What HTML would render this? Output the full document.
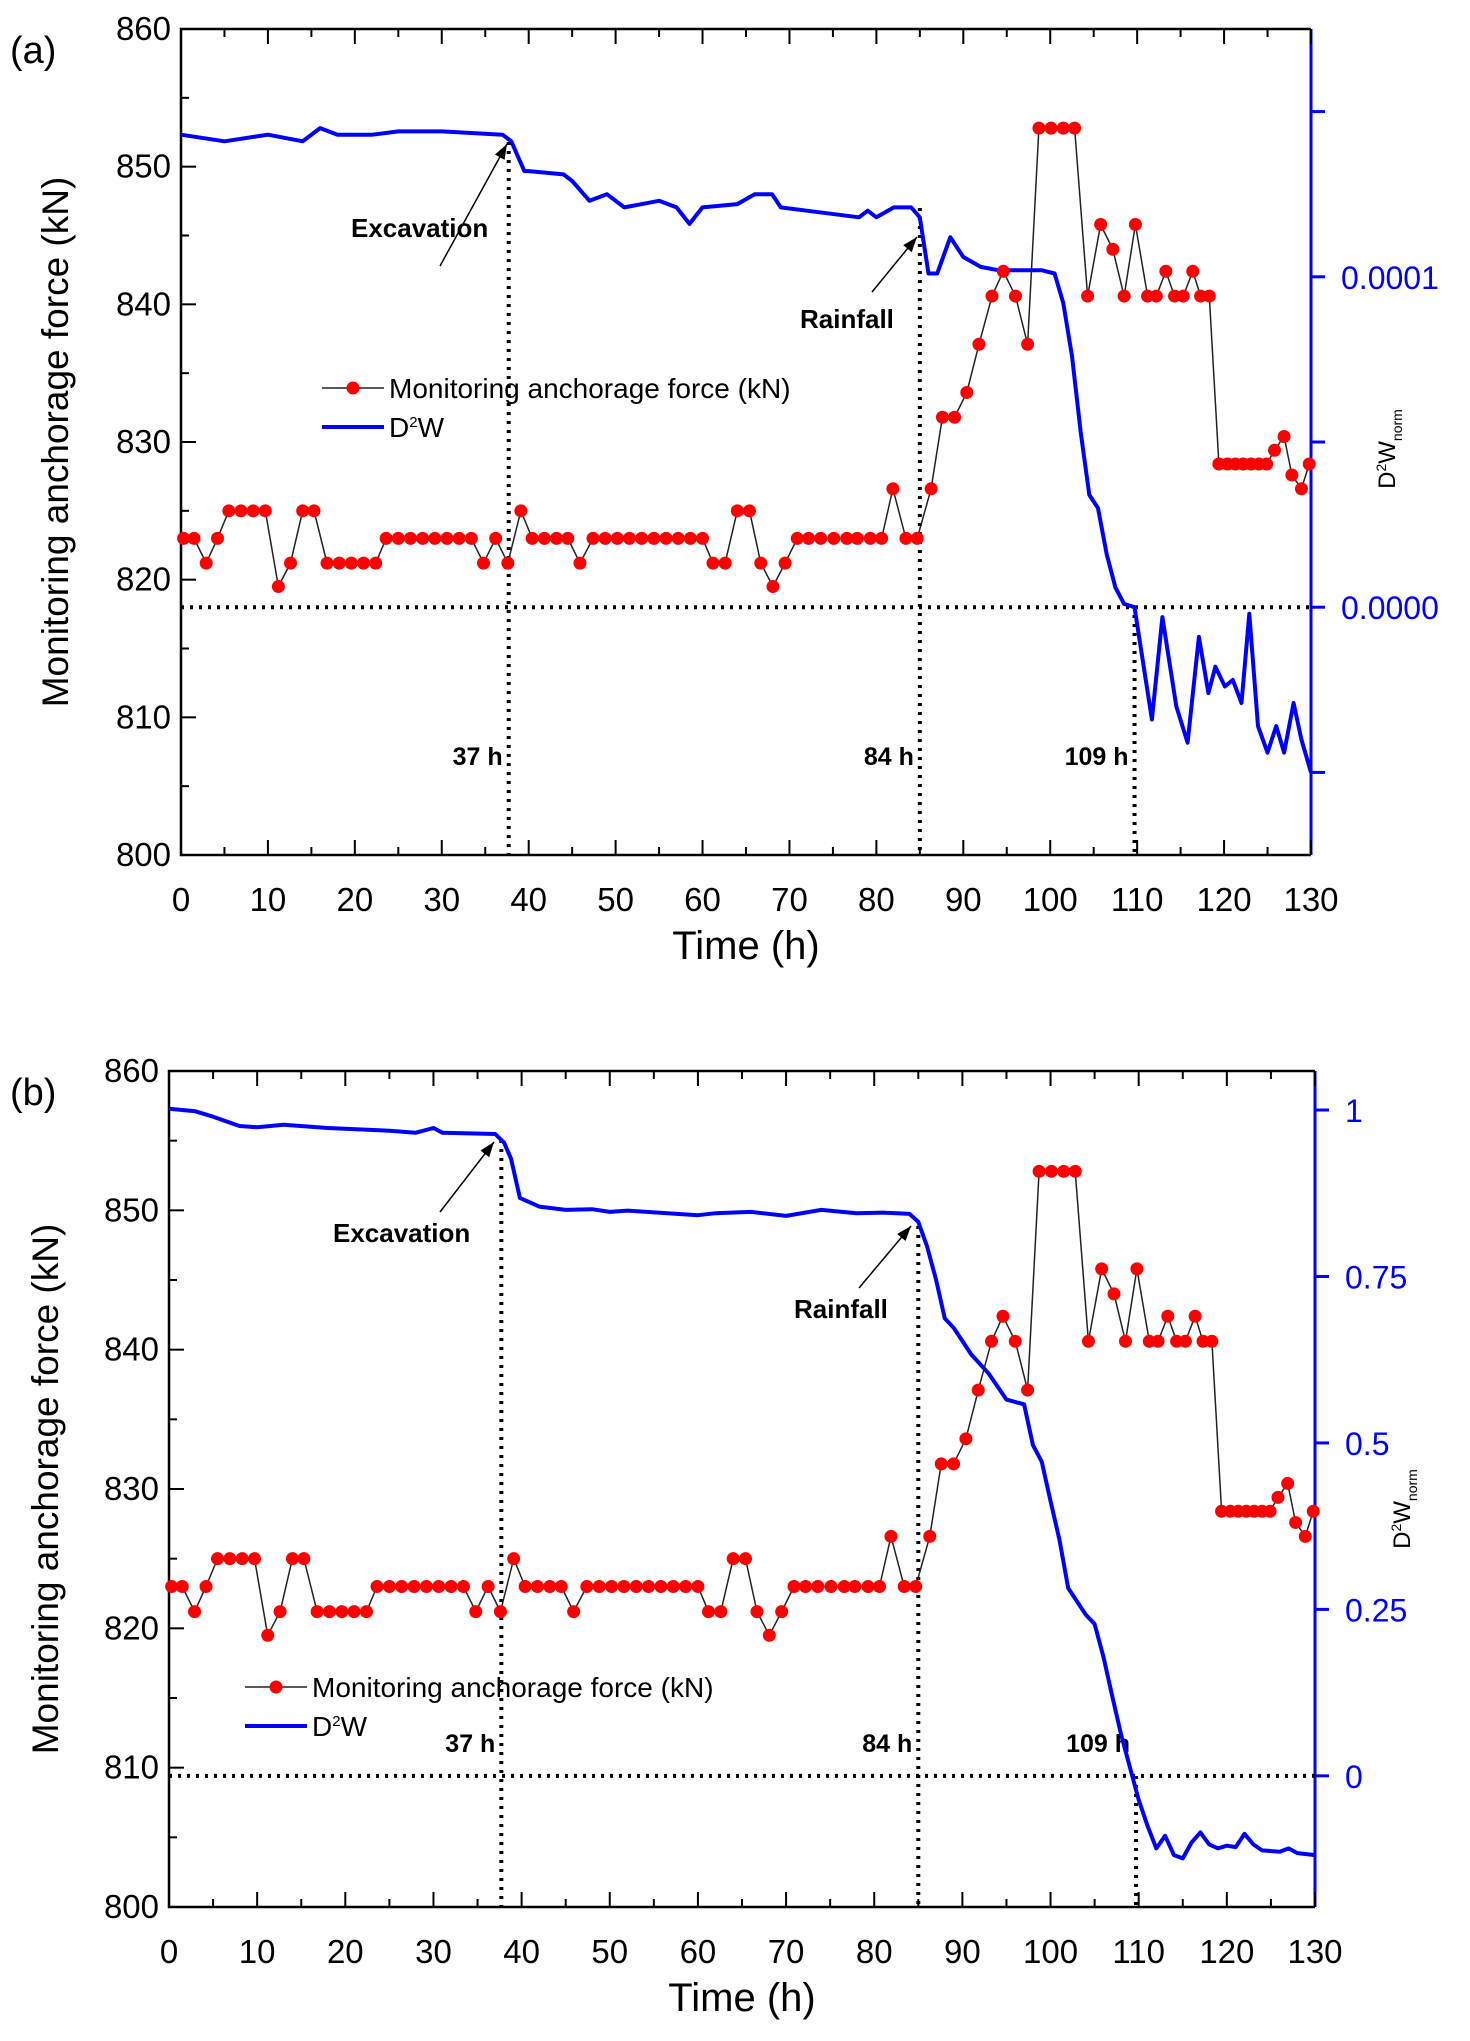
<!DOCTYPE html>
<html><head><meta charset="utf-8"><style>
html,body{margin:0;padding:0;background:#fff;}
svg{display:block;font-family:"Liberation Sans",sans-serif;}
</style></head><body>
<svg id="fig" width="1470" height="2041" viewBox="0 0 1470 2041" xmlns="http://www.w3.org/2000/svg"></svg>
<script>
// ===== Data =====
const forceTimes = [0.3,1.5,2.9,4.2,5.5,6.9,8.3,9.7,11.2,12.6,14,15.3,16.8,18.2,19.6,21,22.4,23.6,25,26.4,27.8,29.2,30.6,32,33.4,34.8,36.2,37.6,39.1,40.4,41.8,43.2,44.5,45.9,47.4,48.8,50.2,51.6,53,54.4,55.8,57.2,58.6,60,61.2,62.6,64,65.4,66.7,68.1,69.5,70.9,72.2,73.6,75.1,76.6,77.8,79.3,80.6,81.9,83.4,84.7,86.3,87.6,89,90.4,91.8,93.3,94.6,96,97.4,98.7,100.1,101.5,102.8,104.3,105.8,107.2,108.5,109.8,111.2,112.2,113.3,114.3,115.3,116.4,117.3,118.3,119.4,120.4,121.3,122.2,123.1,124,124.9,125.8,126.9,127.8,128.9,129.8];
const forceValues = [823,823,821.2,823,825,825,825,825,819.5,821.2,825,825,821.2,821.2,821.2,821.2,821.2,823,823,823,823,823,823,823,823,821.2,823,821.2,825,823,823,823,823,821.2,823,823,823,823,823,823,823,823,823,823,821.2,821.2,825,825,821.2,819.5,821.2,823,823,823,823,823,823,823,823,826.6,823,823,826.6,831.8,831.8,833.6,837.1,840.6,842.4,840.6,837.1,852.8,852.8,852.8,852.8,840.6,845.8,844,840.6,845.8,840.6,840.6,842.4,840.6,840.6,842.4,840.6,840.6,828.4,828.4,828.4,828.4,828.4,828.4,828.4,829.4,830.4,827.6,826.6,828.4];
// panel (a) D2W in units of 1e-5
const d2wATimes = [0,5,10,14,16,18,22,25,30,37,38,39.5,40,44,45,47,49,51,55,57,58.5,60,64,66,68,69,72,78,79,80,82,84,85,86,87,88.5,90,92,94,99,100.5,101.5,102.5,103.5,104.5,105.5,106.5,107.5,108.5,109.7,111.7,112.9,114.5,115.8,117.1,118.2,119,120.1,121,122,122.9,123.9,125,126,126.9,128,128.9,130];
const d2wAValues = [14.3,14.1,14.3,14.1,14.5,14.3,14.3,14.4,14.4,14.3,14.1,13.2,13.2,13.1,12.9,12.3,12.5,12.1,12.3,12.1,11.6,12.1,12.2,12.5,12.5,12.1,12.0,11.8,12.0,11.8,12.1,12.1,11.8,10.1,10.1,11.2,10.6,10.3,10.2,10.2,10.1,9.2,7.6,5.3,3.4,3.0,1.6,0.6,0.1,0,-3.4,-0.3,-3.0,-4.1,-0.9,-2.6,-1.8,-2.4,-2.2,-2.9,-0.2,-3.6,-4.4,-3.6,-4.4,-2.9,-4.0,-5.0];
// panel (b) normalized D2W
const d2wBTimes = [0,3,5,8,10,13,18,25,28,30,31,37,38,38.8,39.8,42,45,48,50,52,60,62,66,70,74,78,81,84,85,86,87,88,89,91,93,95,97,98,99,100,101,102,104,105,106,107,108,109,110,111,112,113,114,115,116,117,118,119,120,121,122,123,124,126,127,128,130];
const d2wBValues = [1.002,0.998,0.99,0.976,0.974,0.978,0.973,0.969,0.966,0.973,0.966,0.964,0.951,0.927,0.868,0.855,0.85,0.851,0.847,0.849,0.842,0.845,0.847,0.841,0.85,0.845,0.846,0.844,0.832,0.795,0.746,0.687,0.673,0.633,0.604,0.565,0.558,0.497,0.472,0.413,0.355,0.282,0.242,0.228,0.179,0.12,0.062,0.013,-0.036,-0.075,-0.109,-0.09,-0.119,-0.124,-0.1,-0.085,-0.103,-0.109,-0.105,-0.107,-0.087,-0.103,-0.112,-0.114,-0.109,-0.116,-0.119];
const xTickLabels = [0,10,20,30,40,50,60,70,80,90,100,110,120,130];
const yTickLabels = [800,810,820,830,840,850,860];
const rightTicksA = [-5,0,5,10,15];
const rightLabelsA = {"0":"0.0000","10":"0.0001"};
const rightTicksB = [0,0.25,0.5,0.75,1];
const rightLabelsB = ["0","0.25","0.5","0.75","1"];
const eventTimes = [37.7, 85, 109.7];
const eventLabels = ["37 h","84 h","109 h"];

const NS = "http://www.w3.org/2000/svg";
const svg = document.getElementById('fig');
function mk(tag, attrs, parent, text){
  const e = document.createElementNS(NS, tag);
  for (const k in attrs) e.setAttribute(k, attrs[k]);
  if (text !== undefined) e.textContent = text;
  (parent||svg).appendChild(e);
  return e;
}

function panel(cfg){
  const g = mk('g', {});
  
  
  const X = t => cfg.x0 + (t/130)*(cfg.x1-cfg.x0);
  const Y = v => cfg.yb + (v-800)/60*(cfg.yt-cfg.yb);
  const R = v => cfg.rb + (v-cfg.rmin)/(cfg.rmax-cfg.rmin)*(cfg.yt-cfg.rb);

  const fr = mk('path', {d:`M${cfg.x1},${cfg.yt} L${cfg.x0},${cfg.yt} L${cfg.x0},${cfg.yb} L${cfg.x1},${cfg.yb}`, fill:'none', stroke:'#000', 'stroke-width':2.5}, g);
  
  
  const ra = mk('line', {x1:cfg.x1, y1:cfg.yt, x2:cfg.x1, y2:cfg.yb, stroke:'#0000ff', 'stroke-width':3}, g);
  
  

  for (let t=0;t<=130;t+=5){
    const major = t%10===0, L = major?15:8;
    mk('line',{x1:X(t),y1:cfg.yb,x2:X(t),y2:cfg.yb-L,stroke:'#000','stroke-width':2},g);
    mk('line',{x1:X(t),y1:cfg.yt,x2:X(t),y2:cfg.yt+L,stroke:'#000','stroke-width':2},g);
  }
  xTickLabels.forEach(t=>{
    const e = mk('text',{x:X(t),y:cfg.yb+56,'text-anchor':'middle','font-size':33},g,String(t));
    
    
  });
  for (let v=800; v<=860; v+=5){
    const L = v%10===0?15:8;
    mk('line',{x1:cfg.x0,y1:Y(v),x2:cfg.x0+L,y2:Y(v),stroke:'#000','stroke-width':2},g);
  }
  yTickLabels.forEach(v=>{
    const e = mk('text',{x:cfg.x0-10,y:Y(v)+11,'text-anchor':'end','font-size':33},g,String(v));
    
    
  });
  cfg.rticks.forEach((v,i)=>{
    mk('line',{x1:cfg.x1,y1:R(v),x2:cfg.x1+14,y2:R(v),stroke:'#0000ff','stroke-width':3},g);
    const lab = cfg.rlabel(v,i);
    if (lab){
      const e = mk('text',{x:cfg.x1+cfg.rlx,y:R(v)+12,'font-size':32,fill:'#0000ff'},g,lab);
      
      
    }
  });
  const xt = mk('text',{x:(cfg.x0+cfg.x1)/2,y:cfg.yb+104,'text-anchor':'middle','font-size':40},g,'Time (h)');
  
  
  const yt = mk('text',{x:0,y:0,'text-anchor':'middle','font-size':37,transform:`translate(${cfg.ytx},${(cfg.yt+cfg.yb)/2}) rotate(-90)`},g,'Monitoring anchorage force (kN)');
  
  
  const rt = mk('text',{x:0,y:0,'text-anchor':'middle','font-size':24,transform:`translate(${cfg.rtx},${cfg.rty}) rotate(-90)`},g);
  
  
  rt.innerHTML = 'D<tspan dy="-9" font-size="14">2</tspan><tspan dy="9">W</tspan><tspan dy="7" font-size="14">norm</tspan>';
  const pl = mk('text',{x:10,y:cfg.yt+34,'font-size':38},g,cfg.label);
  
  

  const zy = R(0);
  const zl = mk('line',{x1:cfg.x0,y1:zy,x2:cfg.x1,y2:zy,stroke:'#000','stroke-width':4,'stroke-dasharray':'3 6'},g);
  
  
  eventTimes.forEach((t,i)=>{
    const l = mk('line',{x1:X(t),y1:cfg.vtop[i],x2:X(t),y2:cfg.yb,stroke:'#000','stroke-width':4,'stroke-dasharray':'3 6'},g);
    
    
    const tx = mk('text',{x:X(t)-6,y:cfg.evy,'text-anchor':'end','font-size':25,'font-weight':'bold'},g,eventLabels[i]);
    
    
  });

  const dp = cfg.dt.map((t,i)=>`${i?'L':'M'}${X(t).toFixed(1)},${R(cfg.dv[i]).toFixed(1)}`).join(' ');
  const dl = mk('path',{d:dp,fill:'none',stroke:'#0000ff','stroke-width':4,'stroke-linejoin':'round'},g);
  
  

  const fp = forceTimes.map((t,i)=>`${i?'L':'M'}${X(t).toFixed(1)},${Y(forceValues[i]).toFixed(1)}`).join(' ');
  const fl = mk('path',{d:fp,fill:'none',stroke:'#222','stroke-width':1.5},g);
  
  
  forceTimes.forEach((t,i)=>{
    const c = mk('circle',{cx:X(t),cy:Y(forceValues[i]),r:6.5,fill:'#ff0000'},g);
    
    
  });

  cfg.ann.forEach(a=>{
    const ag = mk('g',{},g);
    
    
    mk('line',{x1:a.ax1,y1:a.ay1,x2:a.ax2,y2:a.ay2,stroke:'#000','stroke-width':1.5},ag);
    const ang = Math.atan2(a.ay2-a.ay1,a.ax2-a.ax1);
    const hx=a.ax2, hy=a.ay2, s=16, w=0.35;
    mk('polygon',{points:`${hx},${hy} ${hx-s*Math.cos(ang-w)},${hy-s*Math.sin(ang-w)} ${hx-s*Math.cos(ang+w)},${hy-s*Math.sin(ang+w)}`,fill:'#000'},ag);
    mk('text',{x:a.tx,y:a.ty,'font-size':26,'font-weight':'bold'},ag,a.text);
  });

  const lg = mk('g',{},g);
  
  
  const e1 = mk('g',{},lg);
  
  
  mk('line',{x1:cfg.lx,y1:cfg.ly,x2:cfg.lx+62,y2:cfg.ly,stroke:'#222','stroke-width':1.5},e1);
  mk('circle',{cx:cfg.lx+31,cy:cfg.ly,r:6.5,fill:'#ff0000'},e1);
  mk('text',{x:cfg.lx+67,y:cfg.ly+10,'font-size':28},e1,'Monitoring anchorage force (kN)');
  const e2 = mk('g',{},lg);
  
  
  mk('line',{x1:cfg.lx,y1:cfg.ly+39,x2:cfg.lx+62,y2:cfg.ly+39,stroke:'#0000ff','stroke-width':4},e2);
  const t2 = mk('text',{x:cfg.lx+67,y:cfg.ly+49,'font-size':28},e2);
  t2.innerHTML = 'D<tspan dy="-10" font-size="15">2</tspan><tspan dy="10">W</tspan>';
}

panel({name:'panel-a', label:'(a)', x0:181, x1:1311, yt:29, yb:855,
  rmin:-7.5, rmax:17.5, rb:855, rticks:rightTicksA, rlabel:(v)=>rightLabelsA[String(v)]||'', rlx:30,
  dt:d2wATimes, dv:d2wAValues, ytx:68, rtx:1395, rty:449,
  vtop:[142,208,606], evy:765,
  ann:[{text:'Excavation',tx:351,ty:237,ax1:440,ay1:266,ax2:507,ay2:144},
       {text:'Rainfall',tx:800,ty:328,ax1:872,ay1:292,ax2:917,ay2:237}],
  lx:322, ly:388});
panel({name:'panel-b', label:'(b)', x0:169, x1:1315, yt:1071, yb:1907,
  rmin:-0.197, rmax:1.0586, rb:1907, rticks:rightTicksB, rlabel:(v,i)=>rightLabelsB[i], rlx:30,
  dt:d2wBTimes, dv:d2wBValues, ytx:58, rtx:1410, rty:1509,
  vtop:[1140,1226,1776], evy:1752,
  ann:[{text:'Excavation',tx:333,ty:1242,ax1:440,ay1:1212,ax2:494,ay2:1142},
       {text:'Rainfall',tx:794,ty:1318,ax1:859,ay1:1288,ax2:911,ay2:1226}],
  lx:245, ly:1687});
</script>
</body></html>
